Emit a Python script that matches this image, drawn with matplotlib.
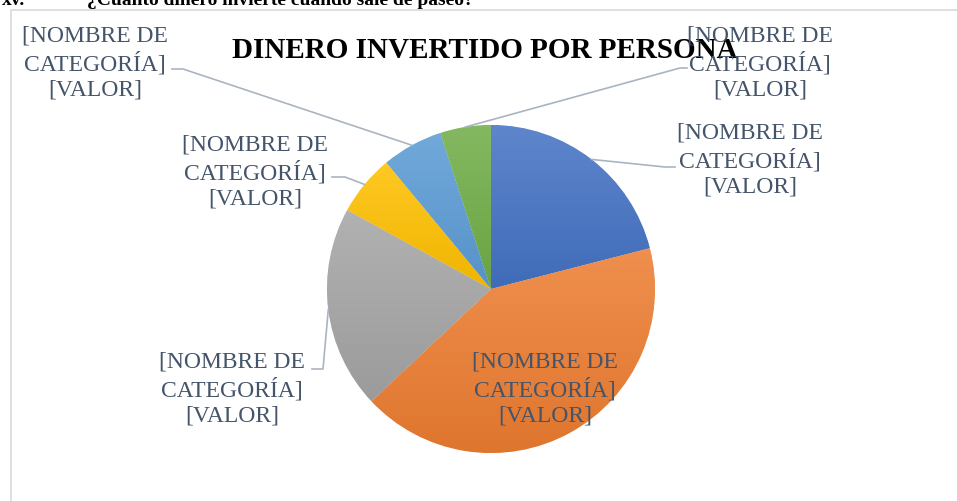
import numpy as np
import matplotlib.pyplot as plt
from matplotlib.colors import to_rgb
from matplotlib.patches import Rectangle

# data (labels in the source are Word placeholders)
categories = ["A", "B", "C", "D", "E", "F"]
values = [21, 42, 20, 6, 6, 5]
colors = ["#4472C4", "#ED7D31", "#A5A5A5", "#FFC000", "#5B9BD5", "#70AD47"]
label_text = "[NOMBRE DE\nCATEGORÍA]\n[VALOR]"

W, H = 957, 502
# label centre (px, from top-left) and leader path (elbow, end) per slice
label_pos = [(750, 160), (545, 389), (232, 389), (255, 172), (95, 63), (760, 63)]
leaders = [
    [(665, 168), (675, 168)],
    None,
    [(323, 370), (312, 370)],
    [(345, 178), (332, 178)],
    [(183, 70), (172, 70)],
    [(680, 69), (687, 69)],
]

TEXT_C = "#44546A"
LINE_C = "#A9B4C2"
SERIF = ["Liberation Serif", "DejaVu Serif"]


def shade(c, f):
    r = np.array(to_rgb(c))
    if f > 0:
        return r + (1 - r) * f
    return r * (1 + f)


fig = plt.figure(figsize=(W / 100, H / 100), dpi=100)
ax = fig.add_axes([0, 0, 1, 1])

cx, cy, R = 491, H - 290, 164
wedges, _ = ax.pie(values, center=(cx, cy), radius=R, startangle=90,
                   counterclock=False, colors=colors,
                   wedgeprops=dict(edgecolor="white", linewidth=0.4))

# gradient fill per slice, lighter on top
for w, c in zip(wedges, colors):
    bb = w.get_path().get_extents(w.get_transform() - ax.transData)
    top, bot = shade(c, 0.14), shade(c, -0.06)
    t = np.linspace(0, 1, 256)[:, None]
    grad = top[None, :] * (1 - t[..., None]) + bot[None, :] * t[..., None]
    grad = np.repeat(grad, 2, axis=1)
    im = ax.imshow(grad, extent=(bb.x0, bb.x1, bb.y0, bb.y1), origin="upper",
                   aspect="auto", zorder=w.get_zorder() + 0.1)
    im.set_clip_path(w)

# leader lines + labels
for w, pos, lead in zip(wedges, label_pos, leaders):
    mid = np.deg2rad((w.theta1 + w.theta2) / 2)
    ax_pt = (cx + R * np.cos(mid), cy + R * np.sin(mid))
    if lead is not None:
        xs = [ax_pt[0]] + [p[0] for p in lead]
        ys = [ax_pt[1]] + [H - p[1] for p in lead]
        ax.plot(xs, ys, color=LINE_C, lw=1.2, zorder=5)
    ax.text(pos[0], H - pos[1], label_text, ha="center", va="center",
            fontsize=17, color=TEXT_C, family=SERIF, linespacing=1.25, zorder=6)

ax.text(485, H - 50, "DINERO INVERTIDO POR PERSONA", ha="center", va="center",
        fontsize=21, fontweight="bold", family=SERIF, color="black", zorder=4)

# chart frame (only left and top edges show)
ax.add_patch(Rectangle((11, -20), W + 40, H - 11 + 20, fill=False,
                       edgecolor="#D9D9D9", lw=1.2, zorder=0))

ax.set_xlim(0, W)
ax.set_ylim(0, H)
ax.set_aspect("auto")
ax.axis("off")

# heading of the document, cut off at the top
fig.text(2 / W, 1 - 5 / H, "xv.", fontsize=14, fontweight="bold",
         family=SERIF, va="baseline")
fig.text(87 / W, 1 - 5 / H, "¿Cuánto dinero invierte cuando sale de paseo?",
         fontsize=14, fontweight="bold", family=SERIF, va="baseline")

fig.savefig("out.png", dpi=100)
